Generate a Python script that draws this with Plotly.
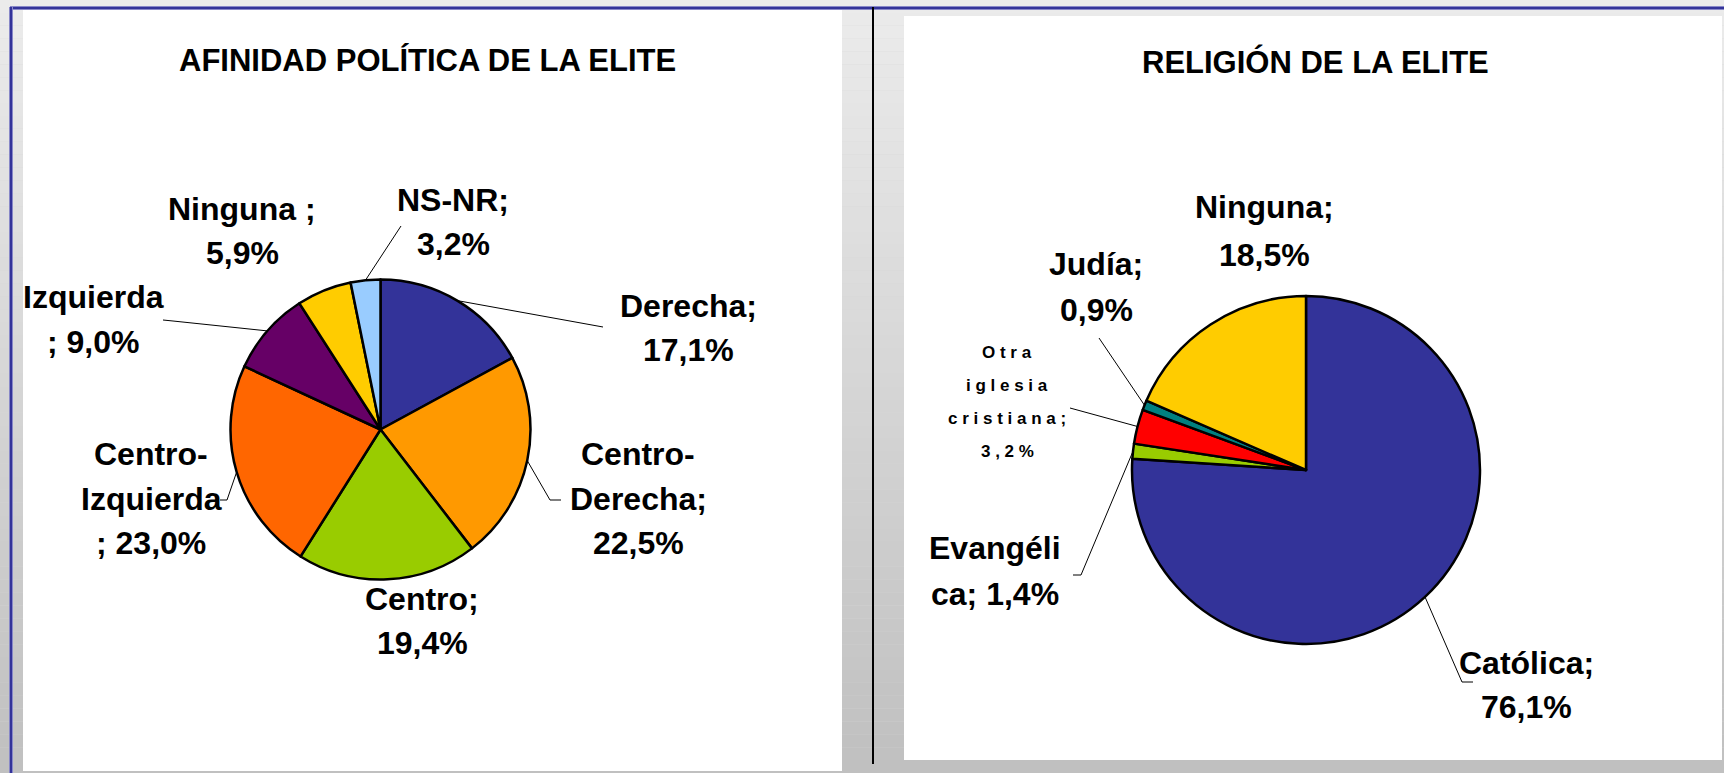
import math
import plotly.graph_objects as go

W, H = 1724, 773

# ---- data -------------------------------------------------------------
titles = ["AFINIDAD POLÍTICA DE LA ELITE", "RELIGIÓN DE LA ELITE"]

pol_labels = ["Derecha", "Centro-Derecha", "Centro", "Centro-Izquierda",
              "Izquierda", "Ninguna", "NS-NR"]
pol_values = [17.1, 22.5, 19.4, 23.0, 9.0, 5.9, 3.2]
pol_colors = ["#333399", "#FF9900", "#99CC00", "#FF6600",
              "#660066", "#FFCC00", "#99CCFF"]
# label lines per slice ("|" = line break, {p} = formatted percentage)
pol_text = ["Derecha;|{p}", "Centro-|Derecha;|{p}", "Centro;|{p}",
            "Centro-|Izquierda|; {p}", "Izquierda|; {p}", "Ninguna ;|{p}",
            "NS-NR;|{p}"]

rel_labels = ["Católica", "Evangélica", "Otra iglesia cristiana", "Judía", "Ninguna"]
rel_values = [76.1, 1.4, 3.2, 0.9, 18.5]
rel_colors = ["#333399", "#99CC00", "#FF0000", "#008080", "#FFCC00"]
rel_text = ["Católica;|{p}", "Evangéli|ca; {p}", "Otra|iglesia|cristiana;|{p}",
            "Judía;|{p}", "Ninguna;|{p}"]

# ---- layout helpers (pixel -> paper) -----------------------------------
def px(x):
    return x / W


def py(y):
    return 1 - y / H


def pct(v):
    return f"{v:.1f}".replace(".", ",") + "%"


# pie geometry in pixels: centre x, centre y, radius
pies = [
    dict(cx=380.5, cy=429.5, r=150),
    dict(cx=1306, cy=470, r=174),
]

# label placement per slice: (centre x, first line y, line gap, font size, spaced)
pol_pos = [(688, 306, 44, 32, False), (638, 454, 44.5, 32, False),
           (422, 599, 44, 32, False), (151, 454, 44.5, 32, False),
           (93, 297, 45, 32, False), (242, 209, 44, 32, False),
           (453, 200, 44, 32, False)]
rel_pos = [(1526, 663, 44, 32, False), (995, 548, 46, 32, False),
           (1007, 352, 33, 17, True), (1096, 264, 46, 32, False),
           (1264, 207, 48, 32, False)]

# leader line points after the slice edge point (pixels), None = no leader
pol_lead = [[(603, 327)], [(550, 500), (561, 500)], None,
            [(227, 500), (220, 500)], [(173, 321), (163, 320)], None,
            [(401, 226)]]
rel_lead = [[(1462, 682), (1473, 682)], [(1081, 575), (1073, 575)],
            [(1070, 408)], [(1099, 338)], None]

FONT = "Liberation Sans, Arial, sans-serif"
TITLE_FONT = "Liberation Sans Narrow, Arial Narrow, Liberation Sans, sans-serif"

fig = go.Figure()
shapes = []
annotations = []

# background gradient
n_bands = 60
c0, c1 = (0xEB, 0xEB, 0xEB), (0xC0, 0xC0, 0xC0)
for i in range(n_bands):
    t = i / (n_bands - 1)
    col = tuple(round(a + (b - a) * t) for a, b in zip(c0, c1))
    shapes.append(dict(type="rect", xref="paper", yref="paper", layer="below",
                       x0=0, x1=1, y0=py(H * (i + 1) / n_bands), y1=py(H * i / n_bands),
                       line=dict(width=0), fillcolor="rgb(%d,%d,%d)" % col))

# white chart panels
for x0, x1, y0, y1 in [(23, 842, 9, 771), (904, 1722, 16, 760)]:
    shapes.append(dict(type="rect", xref="paper", yref="paper", layer="below",
                       x0=px(x0), x1=px(x1), y0=py(y1), y1=py(y0),
                       line=dict(width=0), fillcolor="white"))

# blue frame lines and black divider
shapes.append(dict(type="line", xref="paper", yref="paper", x0=px(10), x1=1,
                   y0=py(8), y1=py(8), line=dict(color="#8888c8", width=4)))
shapes.append(dict(type="line", xref="paper", yref="paper", x0=px(10), x1=1,
                   y0=py(8), y1=py(8), line=dict(color="#333399", width=2)))
shapes.append(dict(type="line", xref="paper", yref="paper", x0=px(11), x1=px(11),
                   y0=0, y1=py(7), line=dict(color="#8888c8", width=4)))
shapes.append(dict(type="line", xref="paper", yref="paper", x0=px(11), x1=px(11),
                   y0=0, y1=py(7), line=dict(color="#333399", width=2)))
shapes.append(dict(type="line", xref="paper", yref="paper", x0=px(873), x1=px(873),
                   y0=py(764), y1=py(7), line=dict(color="black", width=2)))


def add_pie(labels, values, colors, geo, texts, pos, leads, name):
    cx, cy, r = geo["cx"], geo["cy"], geo["r"]
    fig.add_trace(go.Pie(
        labels=labels, values=values, name=name,
        marker=dict(colors=colors, line=dict(color="black", width=2.5)),
        sort=False, direction="clockwise", rotation=0,
        textinfo="none", showlegend=False, hoverinfo="label+percent",
        domain=dict(x=[px(cx - r), px(cx + r)], y=[py(cy + r), py(cy - r)]),
    ))
    total = sum(values)
    cum = 0.0
    for v, tmpl, (lx, ly, gap, size, spaced), lead in zip(values, texts, pos, leads):
        mid = (cum + v / 2) / total * 2 * math.pi
        cum += v
        # leader line from the slice edge to the label
        if lead:
            pts = [(cx + r * math.sin(mid), cy - r * math.cos(mid))] + lead
            for (xa, ya), (xb, yb) in zip(pts[:-1], pts[1:]):
                shapes.append(dict(type="line", xref="paper", yref="paper",
                                   x0=px(xa), y0=py(ya), x1=px(xb), y1=py(yb),
                                   line=dict(color="black", width=1)))
        lines = tmpl.format(p=pct(v)).split("|")
        for k, line in enumerate(lines):
            if spaced:
                line = " ".join(line.replace(" ", ""))
            annotations.append(dict(
                x=px(lx), y=py(ly + k * gap), xref="paper", yref="paper",
                text=line, showarrow=False, xanchor="center", yanchor="middle",
                font=dict(family=FONT, size=size, color="black", weight="bold")))


add_pie(pol_labels, pol_values, pol_colors, pies[0], pol_text, pol_pos, pol_lead,
        titles[0])
add_pie(rel_labels, rel_values, rel_colors, pies[1], rel_text, rel_pos, rel_lead,
        titles[1])

# chart titles
for t, (tx, ty) in zip(titles, [(427, 60), (1315.5, 62)]):
    annotations.append(dict(x=px(tx), y=py(ty), xref="paper", yref="paper", text=t,
                            showarrow=False, xanchor="center", yanchor="middle",
                            font=dict(family=TITLE_FONT, size=31, color="black",
                                      weight="bold")))

fig.update_layout(
    width=W, height=H, margin=dict(l=0, r=0, t=0, b=0),
    paper_bgcolor="#d6d6d6", plot_bgcolor="#d6d6d6",
    shapes=shapes, annotations=annotations,
)

fig.write_html("out.html")
